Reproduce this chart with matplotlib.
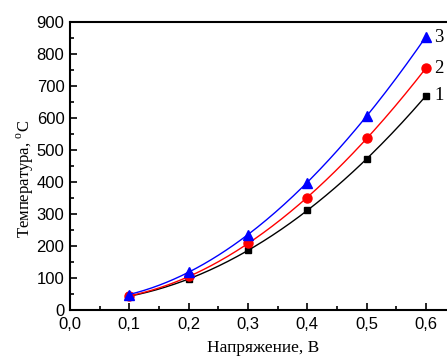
import numpy as np
import matplotlib.pyplot as plt

plt.rcParams['font.family'] = 'Liberation Sans'
plt.rcParams['mathtext.fontset'] = 'custom'
plt.rcParams['mathtext.rm'] = 'Liberation Serif'

voltage = [0.1, 0.2, 0.3, 0.4, 0.5, 0.6]
temp1 = [43, 97, 186, 311, 472, 669]
temp2 = [44, 105, 208, 350, 537, 755]
temp3 = [48, 120, 234, 398, 607, 853]
labels = ['1', '2', '3']

fig = plt.figure(figsize=(4.47, 3.58), dpi=100)
ax = fig.add_axes([0.1566, 0.1341, 0.8434, 0.8044])

series = [
    (temp1, 'black', 's', 5),
    (temp2, 'red', 'o', 6.5),
    (temp3, 'blue', '^', 7.5),
]

xs = np.linspace(0.1, 0.6, 200)
for (t, col, mk, ms), lab in zip(series, labels):
    # smooth fitted curve through the measured points
    p = np.polyfit(voltage, t, 3)
    ax.plot(xs, np.polyval(p, xs), color=col, lw=1)
    ax.plot(voltage, t, mk, color=col, ms=ms, ls='none')
    ax.annotate(lab, (voltage[-1], t[-1]), xytext=(6, 0),
                textcoords='offset points', va='center', ha='left',
                fontsize=13.5, family='Liberation Serif')

ax.set_xlim(0, 0.6357)
ax.set_ylim(0, 900)
ax.set_xticks([0, 0.1, 0.2, 0.3, 0.4, 0.5, 0.6])
ax.set_xticklabels(['0,0', '0,1', '0,2', '0,3', '0,4', '0,5', '0,6'])
ax.set_xticks(np.arange(0.05, 0.63, 0.1), minor=True)
ax.set_yticks(range(0, 901, 100))
ax.set_yticks(range(50, 900, 100), minor=True)

ax.tick_params(which='both', direction='in', labelsize=12, width=1.2)
ax.tick_params(which='major', length=5)
ax.tick_params(which='minor', length=3)
ax.tick_params(axis='x', pad=5)
ax.tick_params(axis='y', pad=4)
for s in ['left', 'bottom', 'top']:
    ax.spines[s].set_linewidth(1.5)
ax.spines['right'].set_visible(False)

ax.set_xlabel('Напряжение, В', family='Liberation Serif', fontsize=12.5)
ax.xaxis.set_label_coords(0.512, -0.105)
ax.set_ylabel('Температура, $^{\\rm o}$C', family='Liberation Serif', fontsize=12)
ax.yaxis.set_label_coords(-0.09, 0.455)

fig.savefig('out.png', dpi=100)
